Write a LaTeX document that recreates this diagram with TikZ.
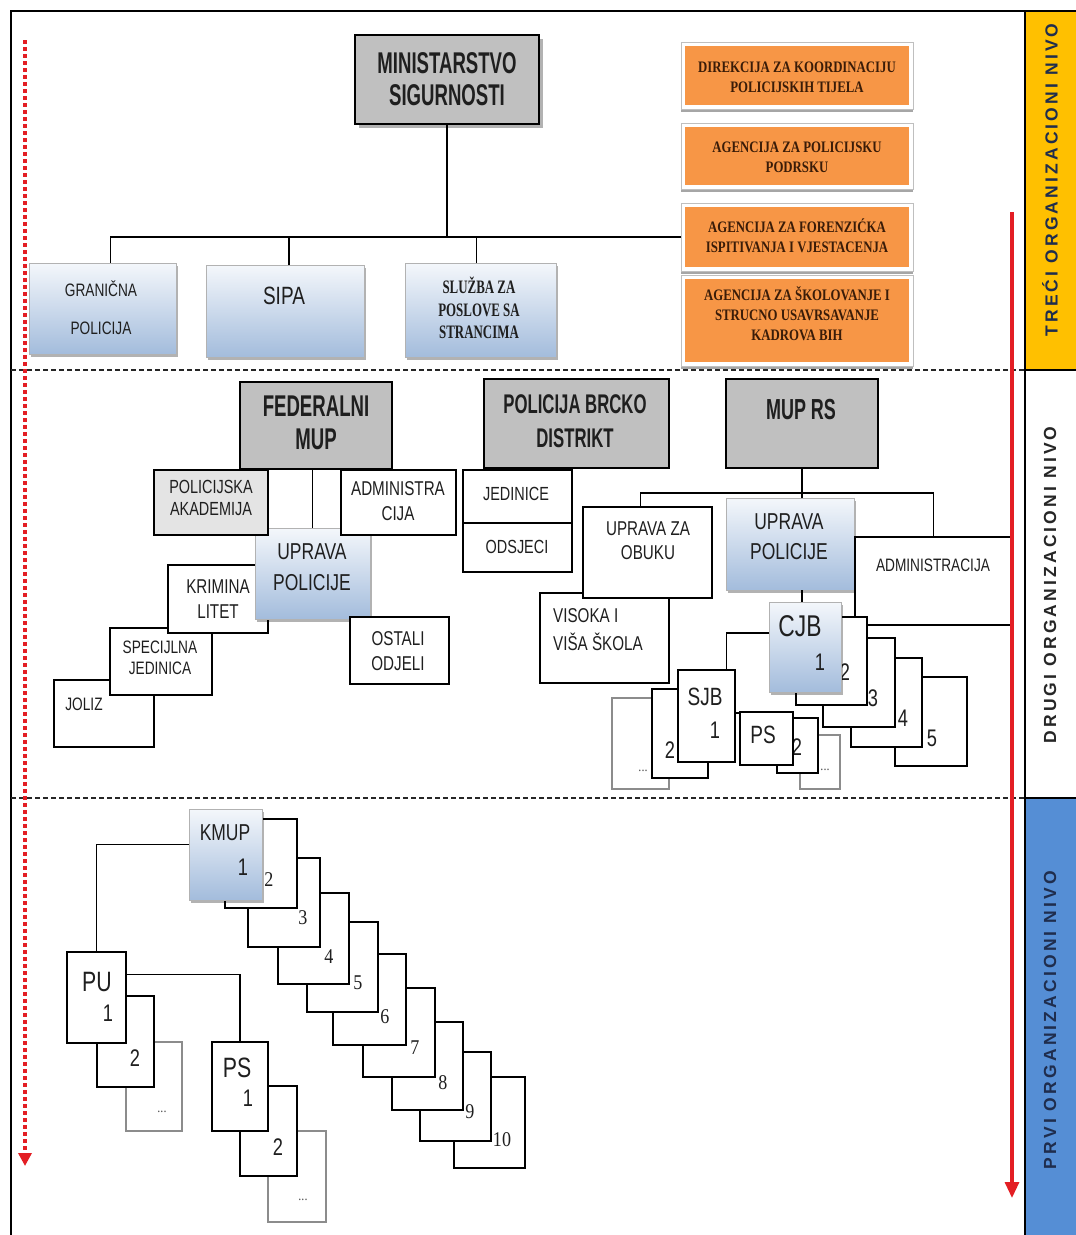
\documentclass[tikz,border=0pt]{standalone}
\usepackage{fontspec}
\setmainfont{Liberation Serif}
\newfontfamily\nar[FakeStretch=0.76]{Liberation Sans}
\newfontfamily\narb[FakeStretch=0.62]{Liberation Sans}
\newfontfamily\sernA[FakeStretch=0.86]{Liberation Serif}
\newfontfamily\sernO[FakeStretch=0.8]{Liberation Serif}
\newfontfamily\sernB[FakeStretch=0.68]{Liberation Serif}
\newfontfamily\stripf[LetterSpace=18]{Liberation Sans}
\usetikzlibrary{shadows,arrows.meta}
\definecolor{grayfill}{HTML}{C0C0C0}
\definecolor{orng}{HTML}{F79646}
\definecolor{yel}{HTML}{FFC000}
\definecolor{blu}{HTML}{558ED5}
\definecolor{btop}{HTML}{F4F7FB}
\definecolor{bbot}{HTML}{A3BCDC}
\definecolor{navy}{HTML}{1F2D4D}
\definecolor{redar}{HTML}{E31E24}
\definecolor{acad}{HTML}{E4E4E4}
\definecolor{ortext}{HTML}{3A1C08}
\newcommand\fs[2]{\fontsize{#1}{#2}\selectfont}
\newcommand\bx[6]{\node[#2,minimum width={(#5)-(#3)},minimum height={(#6)-(#4)},inner sep=0pt,outer sep=0pt] (#1) at ({((#3)+(#5))/2},{((#4)+(#6))/2}) {};}
\begin{document}
\begin{tikzpicture}[x=1pt,y=-1pt,
  graybox/.style={draw=black,line width=1.8pt,fill=grayfill},
  wbox/.style={draw=black,line width=1.6pt,fill=white},
  gbox/.style={draw=black!45,line width=1.3pt,fill=white},
  abox/.style={draw=black,line width=1.6pt,fill=acad},
  bbox/.style={draw=black!30,line width=0.6pt,top color=btop,bottom color=bbot,
    drop shadow={shadow xshift=2pt,shadow yshift=-2.5pt,opacity=0.3,fill=black}},
  orwrap/.style={draw=black!25,line width=0.6pt,fill=white,
    drop shadow={shadow xshift=0pt,shadow yshift=-2.5pt,opacity=0.35,fill=black}},
  orbox/.style={fill=orng,draw=none},
  conn/.style={line width=1.5pt,black},
  sepline/.style={line width=1.3pt,black!85,dash pattern=on 5pt off 3pt},
  tl/.style={inner sep=0pt,align=center,text=black!88},
  ortl/.style={inner sep=0pt,align=center,text=ortext,font=\sernO\bfseries\fs{16}{20}},
  num/.style={inner sep=0pt,text=black!88,font=\nar\fs{24}{24}},
  snum/.style={inner sep=0pt,text=black!88,font=\sernA\fs{21}{21}},
  dots/.style={inner sep=0pt,text=black!70,font=\sernA\fs{14}{14}}
]
\useasboundingbox (0,0) rectangle (1076,1235);
\fill[white] (0,0) rectangle (1076,1235);

% ---- right strip and frame
\fill[yel] (1025,11) rectangle (1076,370);
\fill[blu] (1025,798) rectangle (1076,1235);
\draw[line width=1.3pt] (11,1235) -- (11,11) -- (1076,11);
\draw[line width=1.3pt] (1025,11) -- (1025,1235);
\draw[line width=1.3pt] (1025,370) -- (1076,370);
\draw[line width=1.3pt] (1025,798) -- (1076,798);
\draw[sepline] (11,370) -- (1025,370);
\draw[sepline] (11,798) -- (1025,798);
\node[rotate=90,inner sep=0pt,text=navy,font=\stripf\bfseries\fs{17.5}{17.5}] (niv3) at (1050,180) {TREĆI ORGANIZACIONI NIVO};
\node[rotate=90,inner sep=0pt,text=black!85,font=\stripf\bfseries\fs{17.5}{17.5}] (niv2) at (1050,585) {DRUGI ORGANIZACIONI NIVO};
\node[rotate=90,inner sep=0pt,text=navy,font=\stripf\bfseries\fs{17.5}{17.5}] (niv1) at (1050,1020) {PRVI ORGANIZACIONI NIVO};

% ---- top level
\bx{min}{graybox,drop shadow={shadow xshift=4pt,shadow yshift=-4pt,fill=black!60}}{355}{35}{539}{124}
\node[tl,font=\narb\bfseries\fs{30}{32}] (tmin) at (447,79) {MINISTARSTVO\\SIGURNOSTI};
\bx{gran}{bbox}{29}{263}{176}{354}
\node[tl,font=\nar\fs{18}{38}] (tgran) at (101,308) {GRANIČNA\\POLICIJA};
\bx{sipa}{bbox}{206}{265}{364}{357}
\node[tl,font=\nar\fs{25}{25}] (tsipa) at (284,296) {SIPA};
\bx{sluz}{bbox}{405}{263}{556}{357}
\node[tl,font=\sernB\bfseries\fs{19}{22.5}] (tsluz) at (479,308) {SLUŽBA ZA\\POSLOVE SA\\STRANCIMA};

\bx{agw1}{orwrap}{681}{42}{913}{109}
\bx{ag1}{orbox}{685}{46}{909}{105}
\node[ortl] (tag1) at (797,77) {DIREKCIJA ZA KOORDINACIJU\\POLICIJSKIH TIJELA};
\bx{agw2}{orwrap}{681}{123}{913}{189}
\bx{ag2}{orbox}{685}{127}{909}{185}
\node[ortl] (tag2) at (797,157) {AGENCIJA ZA POLICIJSKU\\PODRSKU};
\bx{agw3}{orwrap}{681}{203}{913}{271}
\bx{ag3}{orbox}{685}{207}{909}{267}
\node[ortl] (tag3) at (797,236) {AGENCIJA ZA FORENZIĆKA\\ISPITIVANJA I VJESTACENJA};
\bx{agw4}{orwrap}{681}{275}{913}{366}
\bx{ag4}{orbox}{685}{279}{909}{362}
\node[ortl] (tag4) at (797,314) {AGENCIJA ZA ŠKOLOVANJE I\\STRUCNO USAVRSAVANJE\\KADROVA BIH};

\draw[conn] (min.south) -- (min.south |- agw3.west);
\draw[conn] (agw3.west) -| ([xshift=8pt]gran.north);
\draw[conn] ([xshift=4pt]sipa.north) -- ([xshift=4pt]sipa.north |- agw3.west);
\draw[conn] ([xshift=-4pt]sluz.north) -- ([xshift=-4pt]sluz.north |- agw3.west);

% ---- middle level, federal
\bx{joliz}{wbox}{54}{680}{154}{747}
\node[tl,font=\nar\fs{18}{18}] (tjoliz) at (84,704) {JOLIZ};
\bx{spec}{wbox}{110}{628}{212}{695}
\node[tl,font=\nar\fs{18}{21}] (tspec) at (160,658) {SPECIJLNA\\JEDINICA};
\bx{krim}{wbox}{168}{565}{268}{633}
\node[tl,font=\nar\fs{20}{25}] (tkrim) at (218,599) {KRIMINA\\LITET};
\bx{upf}{bbox}{255}{528}{370}{619}
\node[tl,font=\nar\fs{23}{31}] (tupf) at (312,567) {UPRAVA\\POLICIJE};
\bx{acadm}{abox}{154}{470}{268}{535}
\node[tl,font=\nar\fs{19}{22}] (tacadm) at (211,498) {POLICIJSKA\\AKADEMIJA};
\bx{admf}{wbox}{341}{470}{456}{535}
\node[tl,font=\nar\fs{20}{25}] (tadmf) at (398,501) {ADMINISTRA\\CIJA};
\bx{ostali}{wbox}{350}{617}{449}{684}
\node[tl,font=\nar\fs{20}{25}] (tostali) at (398,651) {OSTALI\\ODJELI};
\bx{fed}{graybox}{240}{382}{392}{469}
\node[tl,font=\narb\bfseries\fs{30}{33}] (tfed) at (316,423) {FEDERALNI\\MUP};
\draw[conn] (upf.north |- fed.south) -- (upf.north);

% ---- middle level, Brcko
\bx{brcko}{graybox}{484}{379}{669}{468}
\node[tl,font=\narb\bfseries\fs{27}{34}] (tbrcko) at (575,421) {POLICIJA BRCKO\\DISTRIKT};
\bx{jed}{wbox}{463}{470}{572}{523}
\node[tl,font=\nar\fs{19}{19}] (tjed) at (516,494) {JEDINICE};
\bx{ods}{wbox}{463}{523}{572}{572}
\node[tl,font=\nar\fs{19}{19}] (tods) at (517,547) {ODSJECI};

% ---- middle level, RS
\bx{mup}{graybox}{726}{379}{878}{468}
\node[tl,font=\narb\bfseries\fs{29}{29}] (tmup) at (801,410) {MUP RS};
\bx{visoka}{wbox}{540}{593}{669}{683}
\node[tl,anchor=west,align=left,font=\nar\fs{20}{28}] (tvisoka) at (553,630) {VISOKA I\\VIŠA ŠKOLA};
\bx{obuka}{wbox}{583}{507}{712}{598}
\node[tl,font=\nar\fs{20}{24}] (tobuka) at (648,541) {UPRAVA ZA\\OBUKU};
\bx{upr}{bbox}{726}{498}{854}{590}
\node[tl,font=\nar\fs{23}{30}] (tupr) at (789,537) {UPRAVA\\POLICIJE};
\bx{admr}{wbox}{855}{537}{1012}{625}
\node[tl,font=\nar\fs{18}{18}] (tadmr) at (933,565) {ADMINISTRACIJA};

\draw[conn] (mup.south) -- (mup.south |- upr.north);
\draw[conn] ([xshift=-7pt]obuka.north) -- ++(0,-14) -| (admr.north);

\bx{c5}{wbox}{895}{677}{967}{766}
\node[num] (tc5) at (932,738) {5};
\bx{c4}{wbox}{851}{658}{922}{747}
\node[num] (tc4) at (903,718) {4};
\bx{c3}{wbox}{823}{638}{895}{727}
\node[num] (tc3) at (873,698) {3};
\bx{c2}{wbox}{796}{617}{867}{705}
\node[num] (tc2) at (845,672) {2};
\bx{cjb}{bbox}{769}{602}{841}{692}
\node[tl,font=\nar\fs{30}{30}] (tcjb) at (800,626) {CJB};
\node[num] (tcjb1) at (820,662) {1};
\draw[conn] (upr.south -| mup.south) -- (cjb.north -| mup.south);

\bx{sjd}{gbox}{612}{698}{669}{789}
\node[dots] (tsjd) at (643,771) {...};
\bx{sj2}{wbox}{652}{689}{708}{778}
\node[num] (tsj2) at (670,750) {2};
\bx{sjb}{wbox}{678}{670}{735}{762}
\node[tl,font=\nar\fs{25}{25}] (tsjb) at (705,697) {SJB};
\node[num] (tsjb1) at (715,730) {1};
\draw[conn] ([yshift=14pt]cjb.west) -| ([xshift=20pt]sjb.north);

\bx{psd}{gbox}{800}{735}{840}{789}
\node[dots] (tpsd) at (825,770) {...};
\bx{ps2}{wbox}{777}{718}{818}{773}
\node[num] (tps2) at (797,747) {2};
\bx{ps}{wbox}{740}{712}{793}{765}
\node[tl,font=\nar\fs{25}{25}] (tps) at (763,735) {PS};
\draw[conn] ([yshift=3pt]sjb.east) -- ([yshift=3pt]sjb.east -| ps.west);

% ---- bottom level
\bx{k10}{wbox}{454}{1077}{525}{1168}
\node[snum] (tk10) at (502,1140) {10};
\bx{k9}{wbox}{420}{1052}{491}{1141}
\node[snum] (tk9) at (470,1112) {9};
\bx{k8}{wbox}{392}{1022}{463}{1110}
\node[snum] (tk8) at (443,1083) {8};
\bx{k7}{wbox}{363}{988}{435}{1077}
\node[snum] (tk7) at (415,1048) {7};
\bx{k6}{wbox}{333}{954}{406}{1045}
\node[snum] (tk6) at (385,1017) {6};
\bx{k5}{wbox}{307}{922}{378}{1012}
\node[snum] (tk5) at (358,983) {5};
\bx{k4}{wbox}{278}{893}{349}{984}
\node[snum] (tk4) at (329,957) {4};
\bx{k3}{wbox}{248}{858}{320}{947}
\node[snum] (tk3) at (303,918) {3};
\bx{k2}{wbox}{225}{819}{297}{908}
\node[snum] (tk2) at (269,880) {2};
\bx{kmup}{bbox}{189}{809}{262}{900}
\node[tl,font=\nar\fs{23}{23}] (tkmup) at (225,833) {KMUP};
\node[num] (tkmup1) at (243,867) {1};

\bx{pud}{gbox}{126}{1042}{182}{1131}
\node[dots] (tpud) at (162,1112) {...};
\bx{pu2}{wbox}{97}{996}{154}{1087}
\node[num] (tpu2) at (135,1058) {2};
\bx{pu}{wbox}{67}{952}{126}{1043}
\node[tl,font=\nar\fs{28}{28}] (tpu) at (97,982) {PU};
\node[num] (tpu1) at (108,1013) {1};

\bx{psbd}{gbox}{268}{1131}{326}{1222}
\node[dots] (tpsbd) at (303,1200) {...};
\bx{psb2}{wbox}{240}{1086}{297}{1176}
\node[num] (tpsb2) at (278,1147) {2};
\bx{psb}{wbox}{212}{1042}{268}{1131}
\node[tl,font=\nar\fs{28}{28}] (tpsb) at (237,1068) {PS};
\node[num] (tpsb1) at (248,1098) {1};

\draw[conn] ([yshift=10pt]kmup.west) -| (pu.north);
\draw[conn] ([yshift=23pt]pu.east) -| (psb.north);

% ---- red arrows
\coordinate (la1) at (25,40);
\coordinate (la2) at (25,1166);
\coordinate (ra1) at (1012,212);
\coordinate (ra2) at (1012,1198);
\draw[redar,line width=4pt,dash pattern=on 4pt off 3pt,-{Triangle[length=13pt,width=13pt]}] (la1) -- (la2);
\draw[redar,line width=3.2pt,-{Triangle[length=16pt,width=14pt]}] (ra1) -- (ra2);
\end{tikzpicture}
\end{document}
